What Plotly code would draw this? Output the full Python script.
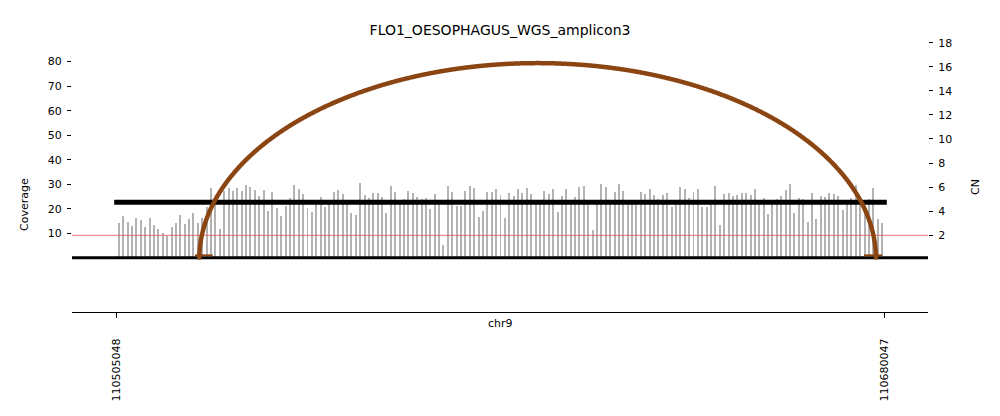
import numpy as np
import plotly.graph_objects as go

# ---------------- data ----------------
title = "FLO1_OESOPHAGUS_WGS_amplicon3"
chrom = "chr9"
region_start = 110505048
region_end = 110680047
view_start = 110494857
view_end = 110690010
bin_size = 1000

coverage = [
    14.1, 16.9, 14.6, 13.0, 16.2, 15.4, 12.4, 16.2, 13.2, 11.6, 10.0, 8.9, 12.6, 14.1, 17.3,
    13.8, 15.8, 18.1, 14.3, 16.4, 20.6, 28.3, 23.0, 11.6, 27.4, 28.3, 27.4, 28.3, 27.4,
    29.6, 28.7, 27.7, 25.1, 27.7, 19.1, 26.7, 20.2, 16.9, 21.0, 24.3, 29.6, 27.9, 25.9, 20.4,
    18.5, 22.5, 24.7, 20.6, 22.5, 26.7, 27.7, 25.9, 22.5, 18.1, 17.5, 30.4, 25.5, 24.5,
    26.3, 26.3, 24.7, 18.1, 29.1, 26.7, 22.5, 24.0, 27.1, 26.3, 24.7, 24.0, 24.3, 20.0, 25.9,
    22.5, 5.1, 29.1, 27.0, 21.3, 21.3, 27.1, 29.1, 28.3, 16.5, 19.0, 26.7, 26.7, 27.9, 25.5,
    16.2, 26.3, 25.1, 27.9, 26.3, 28.3, 26.0, 22.5, 22.5, 27.1, 25.9, 28.1, 18.5, 25.1, 27.9,
    22.5, 24.7, 28.7, 29.1, 22.0, 11.2, 22.0, 30.0, 28.7, 22.5, 26.7, 30.0, 27.1, 22.5,
    22.5, 22.5, 26.7, 25.9, 27.9, 25.5, 23.8, 25.5, 26.3, 20.6, 22.5, 28.7, 27.9, 24.3, 26.7,
    27.9, 20.6, 20.6, 22.5, 29.1, 13.2, 25.9, 26.3, 25.1, 25.5, 26.3, 26.3, 25.5, 27.9, 22.5,
    24.3, 17.9, 22.5, 24.0, 25.1, 27.5, 30.0, 18.1, 24.3, 24.0, 14.5, 26.3, 15.7, 25.1, 24.7,
    26.3, 25.9, 25.1, 19.5, 22.5, 24.3, 29.7, 22.5, 21.0, 24.0, 28.3, 16.0, 14.1,
]

cn_segment_starts = [region_start]
cn_segment_ends = [region_end]
cn_segment_values = [4.74]
cn_baseline = 2

breakpoint_left = [110523879]
breakpoint_right = [110678155]
arc_heights_cn = [16.3]

support_starts = [110522899, 110675418]
support_ends = [110526934, 110679592]

cov_ticks = [10, 20, 30, 40, 50, 60, 70, 80]
cn_ticks = [2, 4, 6, 8, 10, 12, 14, 16, 18]
pos_ticks = [region_start, region_end]
pos_tick_text = [str(region_start), str(region_end)]

cov_range = [-1.71, 88.82]
cn_range = [-0.216, 18.22]

# ---------------- figure ----------------
W, H = 1000, 416
ml, mr, mt, mb = 72, 72, 40, 104
plot_h = H - mt - mb
top_bottom_px = 262
top_dom = [(mt + plot_h - top_bottom_px) / plot_h, 1.0]

font = "DejaVu Sans"
brown = "#8B4513"

bin_pos = [region_start + bin_size * i + bin_size / 2 for i in range(len(coverage))]
bp_per_px = (view_end - view_start) / (W - ml - mr)

fig = go.Figure()

fig.add_trace(go.Bar(
    x=bin_pos, y=coverage, width=bp_per_px * 1.0,
    marker=dict(color="#b3b3b3", line=dict(width=0)),
    xaxis="x", yaxis="y", showlegend=False, hoverinfo="skip",
))

# CN=2 reference line
fig.add_trace(go.Scatter(
    x=[view_start, view_end], y=[cn_baseline, cn_baseline], mode="lines",
    line=dict(color="rgba(232,90,90,0.85)", width=1),
    xaxis="x", yaxis="y2", showlegend=False, hoverinfo="skip",
))

# baseline
fig.add_trace(go.Scatter(
    x=[view_start, view_end], y=[0, 0], mode="lines",
    line=dict(color="black", width=3),
    xaxis="x", yaxis="y", showlegend=False, hoverinfo="skip",
))

# CN segments
cap = 2.5 * bp_per_px
for s, e, v in zip(cn_segment_starts, cn_segment_ends, cn_segment_values):
    fig.add_trace(go.Scatter(
        x=[s - cap, e + cap], y=[v, v], mode="lines",
        line=dict(color="black", width=5),
        xaxis="x", yaxis="y2", showlegend=False, hoverinfo="skip",
    ))

# support markers
for s, e in zip(support_starts, support_ends):
    fig.add_trace(go.Scatter(
        x=[s, e], y=[1.0, 1.0], mode="lines",
        line=dict(color=brown, width=2),
        xaxis="x", yaxis="y", showlegend=False, hoverinfo="skip",
    ))

# breakpoint arcs (half ellipses)
t = np.linspace(np.pi, 0, 721)
for bl, br, h in zip(breakpoint_left, breakpoint_right, arc_heights_cn):
    cx = (bl + br) / 2
    a = (br - bl) / 2
    fig.add_trace(go.Scatter(
        x=cx + a * np.cos(t), y=h * np.sin(t), mode="lines",
        line=dict(color=brown, width=4.5, simplify=False, shape="spline", smoothing=0.6),
        xaxis="x", yaxis="y2", showlegend=False, hoverinfo="skip",
    ))

# dummy trace for the lower axis
fig.add_trace(go.Scatter(x=[region_start], y=[0], mode="markers",
                         marker=dict(opacity=0), xaxis="x2", yaxis="y3",
                         showlegend=False, hoverinfo="skip"))

tickfont = dict(family=font, size=11, color="black")

fig.update_layout(
    width=W, height=H,
    margin=dict(l=ml, r=mr, t=mt, b=mb),
    paper_bgcolor="white", plot_bgcolor="rgba(0,0,0,0)",
    bargap=0,
    font=dict(family=font, size=11, color="black"),
    title=dict(text=title, x=0.5, xanchor="center", y=1 - 30 / H, yanchor="middle",
               yref="container", font=dict(family=font, size=14, color="black")),
    xaxis=dict(domain=[0, 1], range=[view_start, view_end], visible=False, anchor="y"),
    yaxis=dict(domain=top_dom, range=cov_range, tickvals=cov_ticks, ticks="outside",
               ticklen=4, tickcolor="black", showgrid=False, zeroline=False,
               showline=False, tickfont=tickfont, anchor="x", ticklabelstandoff=3),
    yaxis2=dict(domain=top_dom, range=cn_range, tickvals=cn_ticks, ticks="outside",
                ticklen=4, tickcolor="black", showgrid=False, zeroline=False,
                showline=False, overlaying="y", side="right", anchor="x",
                tickfont=tickfont, ticklabelstandoff=3),
    xaxis2=dict(domain=[0, 1], range=[view_start, view_end], anchor="y3",
                tickvals=pos_ticks, ticktext=pos_tick_text, tickangle=-90,
                ticks="outside", ticklen=5, tickcolor="black", showline=True,
                linecolor="black", linewidth=1, showgrid=False, zeroline=False,
                tickfont=tickfont, ticklabelstandoff=16),
    yaxis3=dict(domain=[0, 0.1], visible=False, anchor="x2"),
    annotations=[
        dict(text="Coverage", x=(24 - ml) / (W - ml - mr), y=(H - mb - 205) / plot_h,
             xref="paper", yref="paper", textangle=-90, showarrow=False,
             xanchor="center", yanchor="middle", font=tickfont),
        dict(text="CN", x=(975 - ml) / (W - ml - mr), y=(H - mb - 187) / plot_h,
             xref="paper", yref="paper", textangle=-90, showarrow=False,
             xanchor="center", yanchor="middle", font=tickfont),
        dict(text=chrom, x=0.5, y=(H - mb - 323) / plot_h,
             xref="paper", yref="paper", showarrow=False,
             xanchor="center", yanchor="middle", font=tickfont),
    ],
)

fig.write_html("out.html")
